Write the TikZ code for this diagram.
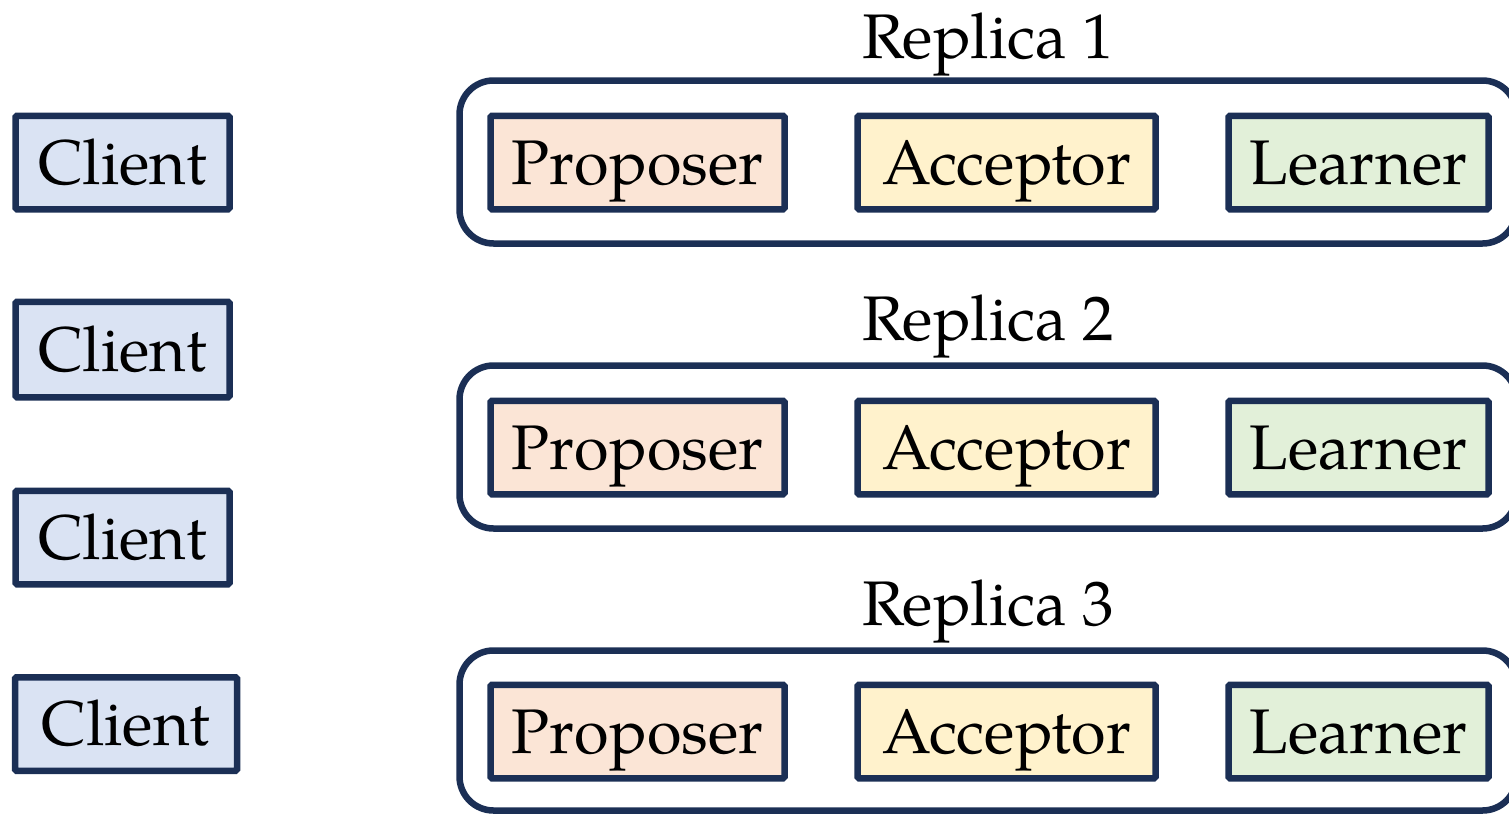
\documentclass[tikz,border=0pt]{standalone}
\usepackage{fontspec}
\setmainfont{TeX Gyre Pagella}
\definecolor{edge}{HTML}{1B2F55}
\definecolor{clientfill}{HTML}{DAE3F3}
\definecolor{propfill}{HTML}{FBE5D6}
\definecolor{accfill}{HTML}{FFF2CC}
\definecolor{learnfill}{HTML}{E2F0D9}
\tikzset{
  role/.style={draw=edge, line width=6.5pt, rounded corners=1.5pt, minimum height=93.5pt,
    inner sep=0pt, font=\fontsize{63}{70}\selectfont, text height=43.5pt, text depth=0pt},
  client/.style={role, fill=clientfill, minimum width=214pt},
  proposer/.style={role, fill=propfill, minimum width=294pt},
  acceptor/.style={role, fill=accfill, minimum width=298pt},
  learner/.style={role, fill=learnfill, minimum width=260pt},
  container/.style={draw=edge, line width=6.5pt, rounded corners=34pt, minimum width=1057pt,
    minimum height=163pt, inner sep=0pt},
  title/.style={anchor=base, inner sep=0pt, font=\fontsize{63}{70}\selectfont}
}
\begin{document}
\begin{tikzpicture}[x=1pt,y=-1pt]
\useasboundingbox (0,0) rectangle (1509,814);
% containers
\node[container] (r1) at (988,162) {};
\node[container] (r2) at (988,447) {};
\node[container, minimum height=160pt] (r3) at (988,730.5) {};
% titles
\node[title] (t1) at (988,58) {Replica 1};
\node[title] (t2) at (988,340) {Replica 2};
\node[title] (t3) at (988,625) {Replica 3};
% clients
\node[client] (c1) at (122.5,162.5) {Client};
\node[client, minimum height=95.5pt] (c2) at (122.5,349.5) {Client};
\node[client] (c3) at (122.5,537.5) {Client};
\node[client, minimum width=222pt] (c4) at (126,724) {Client};
% replica 1
\node[proposer] (p1) at (637.5,162.5) {Proposer};
\node[acceptor] (a1) at (1006.5,162.5) {Acceptor};
\node[learner] (l1) at (1358.5,162.5) {Learner};
% replica 2
\node[proposer] (p2) at (637.5,447.5) {Proposer};
\node[acceptor] (a2) at (1006.5,447.5) {Acceptor};
\node[learner] (l2) at (1358.5,447.5) {Learner};
% replica 3
\node[proposer] (p3) at (637.5,731.5) {Proposer};
\node[acceptor] (a3) at (1006.5,731.5) {Acceptor};
\node[learner] (l3) at (1358.5,731.5) {Learner};
\end{tikzpicture}
\end{document}
